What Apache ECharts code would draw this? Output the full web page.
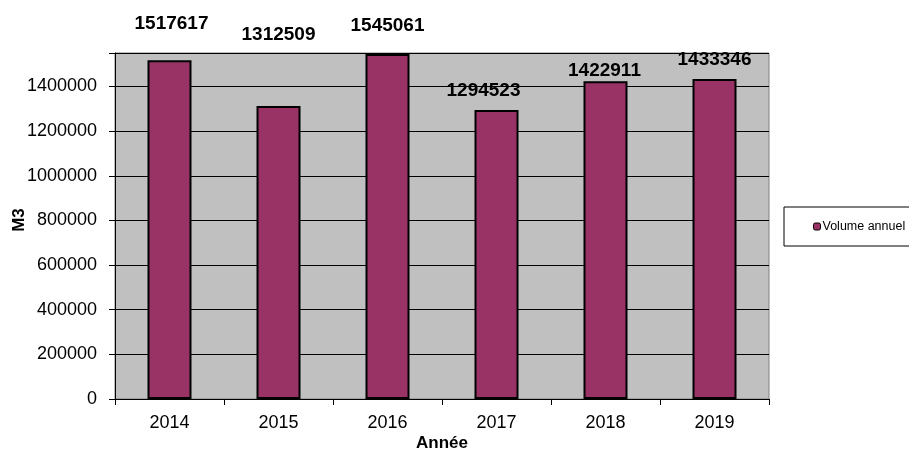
<!DOCTYPE html>
<html>
<head>
<meta charset="utf-8">
<script src="https://cdn.jsdelivr.net/npm/echarts@6/dist/echarts.min.js"></script>
<style>
  html, body { margin: 0; padding: 0; background: #ffffff; }
  #chart { width: 909px; height: 450px; }
</style>
</head>
<body>
<div id="chart"></div>
<script>
// Annual volumes (m3) per year
const years = ['2014', '2015', '2016', '2017', '2018', '2019'];
const volumes = [1517617, 1312509, 1545061, 1294523, 1422911, 1433346];
const seriesName = 'Volume annuel';
const yMax = 1550000;
const yStep = 200000;

// Hand-placed value labels: [dx, dy] shift from the default spot above each bar
const labelShift = [[2, -27], [0, -62], [0, -19], [-13, -10], [-1, -1], [0, -10]];

const font = 'Liberation Sans, Arial, sans-serif';

const chart = echarts.init(document.getElementById('chart'));
chart.setOption({
  animation: false,
  textStyle: { fontFamily: font },
  grid: {
    left: 115, right: 140, top: 53, bottom: 51,
    outerBoundsMode: 'none',
    containLabel: false,
    show: true,
    backgroundColor: '#c0c0c0',
    borderColor: '#808080',
    borderWidth: 1
  },
  legend: {
    data: [seriesName],
    left: 784, top: 207,
    orient: 'vertical',
    itemWidth: 7, itemHeight: 7,
    itemGap: 0,
    padding: [13, 20, 13, 29],
    borderColor: '#000000',
    borderWidth: 1,
    backgroundColor: '#ffffff',
    textStyle: { fontFamily: font, fontSize: 12.5, color: '#000', padding: [0, 0, 0, -3] },
    itemStyle: { borderColor: '#000', borderWidth: 1 }
  },
  xAxis: {
    type: 'category',
    data: years,
    name: 'Année',
    nameLocation: 'middle',
    nameGap: 36,
    nameMoveOverlap: false,
    nameTextStyle: { fontFamily: font, fontWeight: 'bold', fontSize: 17, color: '#000' },
    axisLine: { lineStyle: { color: '#000', width: 1 } },
    axisTick: { show: true, length: 6, alignWithLabel: false, lineStyle: { color: '#000' } },
    axisLabel: { color: '#000', fontSize: 18, margin: 15 },
    splitLine: { show: false }
  },
  yAxis: {
    type: 'value',
    min: 0,
    max: yMax,
    interval: yStep,
    name: 'M3',
    nameLocation: 'middle',
    nameGap: 87,
    nameMoveOverlap: false,
    nameRotate: 90,
    nameTextStyle: { fontFamily: font, fontWeight: 'bold', fontSize: 17, color: '#000', padding: [0, 0, 0, 12] },
    axisLine: { show: true, lineStyle: { color: '#000', width: 1 } },
    axisTick: { show: true, length: 6, lineStyle: { color: '#000' } },
    axisLabel: {
      color: '#000', fontSize: 18, margin: 18,
      formatter: v => (v > 1400000 ? '' : String(v))
    },
    splitLine: { show: true, lineStyle: { color: '#000', width: 1 } }
  },
  series: [{
    name: seriesName,
    type: 'bar',
    barWidth: 44,
    data: volumes.map((v, i) => ({
      value: v,
      label: { offset: labelShift[i] }
    })),
    itemStyle: { color: '#993366', borderColor: '#000', borderWidth: 2 },
    label: {
      show: true,
      position: 'top',
      distance: 0,
      color: '#000',
      fontWeight: 'bold',
      fontSize: 19,
      fontFamily: font
    }
  }]
});
</script>
</body>
</html>
